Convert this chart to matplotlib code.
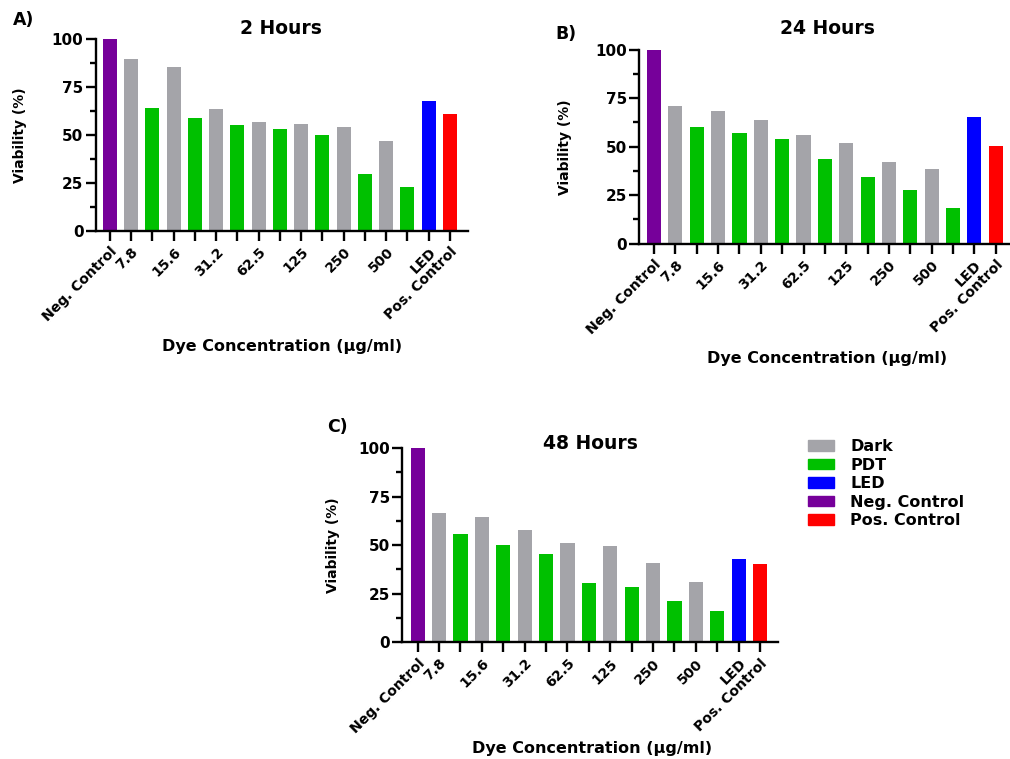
import numpy as np
import matplotlib.pyplot as plt
from matplotlib.patches import Patch
from matplotlib.ticker import MultipleLocator

plt.rcParams['font.family'] = ['DejaVu Sans']
plt.rcParams['font.weight'] = 'bold'

# bar order: Neg. Control, Dark/PDT pairs per concentration, LED, Pos. Control
concentrations = ['7.8', '15.6', '31.2', '62.5', '125', '250', '500']

dark_2h = [89.3, 85.1, 63.3, 56.8, 55.6, 53.9, 46.6]
pdt_2h = [63.8, 58.9, 54.9, 53.0, 50.1, 29.6, 22.9]
led_2h = 67.8
pos_2h = 61.0

dark_24h = [71.0, 68.4, 63.9, 55.8, 52.1, 41.9, 38.5]
pdt_24h = [60.1, 57.2, 54.1, 43.6, 34.5, 27.8, 18.2]
led_24h = 65.3
pos_24h = 50.5

dark_48h = [66.4, 64.7, 58.0, 50.9, 49.4, 40.7, 30.9]
pdt_48h = [55.7, 50.3, 45.5, 30.7, 28.3, 21.3, 16.3]
led_48h = 43.1
pos_48h = 40.1

neg_control = 100.0

c_dark = '#A4A4A9'
c_pdt = '#00C000'
c_led = '#0000FF'
c_neg = '#76009A'
c_pos = '#FF0000'


def build(dark, pdt, led, pos):
    vals = [neg_control]
    cols = [c_neg]
    for d, p in zip(dark, pdt):
        vals += [d, p]
        cols += [c_dark, c_pdt]
    vals += [led, pos]
    cols += [c_led, c_pos]
    labels = ['Neg. Control']
    for c in concentrations:
        labels += [c, '']
    labels += ['LED', 'Pos. Control']
    return vals, cols, labels


def panel(rect, xlim, dark, pdt, led, pos):
    ax = fig.add_axes(rect)
    vals, cols, labels = build(dark, pdt, led, pos)
    x = np.arange(len(vals))
    ax.bar(x, vals, width=0.66, color=cols)
    ax.set_xlim(*xlim)
    ax.set_ylim(0, 100)
    ax.spines['top'].set_visible(False)
    ax.spines['right'].set_visible(False)
    for s in ('left', 'bottom'):
        ax.spines[s].set_linewidth(1.7)
    ax.yaxis.set_major_locator(MultipleLocator(25))
    ax.yaxis.set_minor_locator(MultipleLocator(12.5))
    ax.tick_params(axis='both', which='major', length=7, width=1.7, pad=2)
    ax.tick_params(axis='y', which='major', labelsize=11)
    ax.tick_params(axis='y', which='minor', length=4.5, width=1.7)
    ax.set_xticks(x)
    ax.set_xticklabels(labels, rotation=45, ha='right',
                       rotation_mode='anchor', fontweight='bold',
                       fontsize=10)
    ax.tick_params(axis='x', pad=3)
    for t in ax.get_yticklabels():
        t.set_fontweight('bold')
    return ax


fig = plt.figure(figsize=(10.10, 7.59), dpi=100)

panel([0.0950, 0.6957, 0.3684, 0.2533], (-0.66, 16.85),
      dark_2h, pdt_2h, led_2h, pos_2h)
panel([0.6330, 0.6789, 0.3670, 0.2556], (-0.69, 16.67),
      dark_24h, pdt_24h, led_24h, pos_24h)
panel([0.3983, 0.1537, 0.3720, 0.2560], (-0.72, 16.84),
      dark_48h, pdt_48h, led_48h, pos_48h)

H = 759
W = 1010


def ftext(px, py, s, **kw):
    fig.text(px / W, 1 - py / H, s, fontweight='bold', **kw)


# titles and panel letters
ftext(281, 29, '2 Hours', fontsize=13.5, ha='center', va='center')
ftext(827, 28, '24 Hours', fontsize=13.5, ha='center', va='center')
ftext(590, 444, '48 Hours', fontsize=13.5, ha='center', va='center')
ftext(13, 20, 'A)', fontsize=12.5, ha='left', va='center')
ftext(555, 34, 'B)', fontsize=12.5, ha='left', va='center')
ftext(327, 427, 'C)', fontsize=12.5, ha='left', va='center')

# axis labels
ftext(20, 135, 'Viability (%)', fontsize=10, rotation=90, ha='center', va='center')
ftext(565, 147, 'Viability (%)', fontsize=10, rotation=90, ha='center', va='center')
ftext(333, 545, 'Viability (%)', fontsize=10, rotation=90, ha='center', va='center')
ftext(282, 346, 'Dye Concentration (\u03bcg/ml)', fontsize=11.5, ha='center', va='center')
ftext(827, 358, 'Dye Concentration (\u03bcg/ml)', fontsize=11.5, ha='center', va='center')
ftext(592, 748, 'Dye Concentration (\u03bcg/ml)', fontsize=11.5, ha='center', va='center')

handles = [Patch(color=c_dark, label='Dark'),
           Patch(color=c_pdt, label='PDT'),
           Patch(color=c_led, label='LED'),
           Patch(color=c_neg, label='Neg. Control'),
           Patch(color=c_pos, label='Pos. Control')]
fig.legend(handles=handles, loc='upper left',
           bbox_to_anchor=(808 / W, 1 - 439 / H), frameon=False,
           prop={'weight': 'bold', 'size': 11.5}, handlelength=1.63,
           handleheight=0.62, labelspacing=0.22, handletextpad=1.0,
           borderaxespad=0, borderpad=0)

fig.savefig('out.png', dpi=100)
